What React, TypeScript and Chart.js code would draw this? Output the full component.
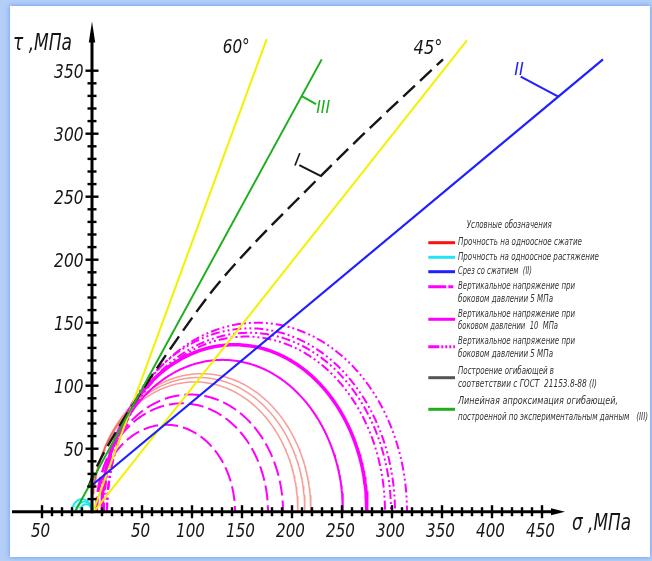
import React, { useEffect, useRef } from "react";
import { Chart, registerables } from "chart.js";

Chart.register(...registerables);

// ---- axis ticks, MPa ----
const SIGMA_MAJOR = [-50, 50, 100, 150, 200, 250, 300, 350, 400, 450];
const SIGMA_LABELS = ["50", "50", "100", "150", "200", "250", "300", "350", "400", "450"];
const SIGMA_MINOR_FROM = -50;
const SIGMA_MINOR_TO = 450;
const TAU_MAJOR = [50, 100, 150, 200, 250, 300, 350];
const TAU_LABELS = ["50", "100", "150", "200", "250", "300", "350"];
const TAU_MINOR_TO = 350;
const MINOR_STEP = 10;
const SIGMA_AXIS_FROM = -80;
const SIGMA_AXIS_TIP = 473;
const TAU_AXIS_TIP = 389;

// ---- straight lines and envelope, (σ, τ) in MPa ----
const RAY_60_SIGMA = [1, 174.7];
const RAY_60_TAU = [0, 375];
const RAY_45_SIGMA = [2, 375];
const RAY_45_TAU = [0, 374];
const LINEAR_III_SIGMA = [-17, 229.7];
const LINEAR_III_TAU = [0, 359];
const SHEAR_II_SIGMA = [0, 511];
const SHEAR_II_TAU = [21, 359];
const GOST_I_SIGMA = [-4, 5, 20, 45, 86, 121, 161, 203, 268, 351];
const GOST_I_TAU = [19, 36, 58, 90, 138, 176, 212, 246, 297, 359];

// ---- Mohr circles: σ3 (left end) and σ1 (right end), MPa ----
const TENSION_S3 = [-20, -16, -12];
const TENSION_S1 = [0, 0, 0];
const COMPRESSION_S3 = [0, 0, 0];
const COMPRESSION_S1 = [206, 213, 219];
const LATERAL5_S3 = [5, 4, 5];
const LATERAL5_S1 = [143, 176, 191];
const LATERAL10_S3 = [10, 10];
const LATERAL10_S1 = [251, 275];
const LATERAL10_WIDTH = [2, 3.5];
const LATERAL5B_S3 = [15, 15, 12, 15];
const LATERAL5B_S1 = [293, 299, 303, 315];

// ---- legend ----
const LEGEND_TITLE = "Условные обозначения";
const LEGEND_LABELS = [
  ["Прочность на одноосное сжатие"],
  ["Прочность на одноосное растяжение"],
  ["Срез со сжатием  (II)"],
  ["Вертикальное напряжение при", "боковом давлении 5 МПа"],
  ["Вертикальное напряжение при", "боковом давлении  10  МПа"],
  ["Вертикальное напряжение при", "боковом давлении 5 МПа"],
  ["Построение огибающей в", "соответствии с ГОСТ  21153.8-88 (I)"],
  ["Линейная апроксимация огибающей,", "построенной по экспериментальным данным   (III)"],
];

const MAGENTA = "#ff00ff";
const DASH_LONG = [15, 5];
const DASH_DOT_DOT = [9, 3, 2, 3, 2, 3];
const DASH_ENVELOPE = [16, 7];

const COND = '"DejaVu Sans Condensed", "DejaVu Sans", sans-serif';

function semicircle(s3: number, s1: number, n = 180) {
  const c = (s3 + s1) / 2;
  const r = (s1 - s3) / 2;
  const pts: { x: number; y: number }[] = [];
  for (let i = 0; i <= n; i++) {
    const t = Math.PI - (Math.PI * i) / n;
    pts.push({ x: c + r * Math.cos(t), y: r * Math.sin(t) });
  }
  return pts;
}

function zipXY(xs: number[], ys: number[]) {
  return xs.map((x, i) => ({ x, y: ys[i] }));
}

function interp(xs: number[], ys: number[], x: number) {
  for (let i = 0; i < xs.length - 1; i++) {
    if (x >= xs[i] && x <= xs[i + 1]) {
      const f = (x - xs[i]) / (xs[i + 1] - xs[i]);
      return ys[i] + f * (ys[i + 1] - ys[i]);
    }
  }
  return ys[ys.length - 1];
}

function lineDs(data: any[], color: string, width: number, dash: number[] = [], extra: any = {}) {
  return {
    data,
    showLine: true,
    borderColor: color,
    backgroundColor: color,
    borderWidth: width,
    borderDash: dash,
    pointRadius: 0,
    fill: false,
    tension: 0,
    clip: false,
    ...extra,
  };
}

function buildDatasets() {
  const ds: any[] = [];
  // straight lines on top
  ds.push(lineDs(zipXY(SHEAR_II_SIGMA, SHEAR_II_TAU), "#1f1fff", 2.2));
  ds.push(lineDs(zipXY(LINEAR_III_SIGMA, LINEAR_III_TAU), "#1fae1f", 2));
  ds.push(
    lineDs(zipXY(GOST_I_SIGMA, GOST_I_TAU), "#161616", 2.4, DASH_ENVELOPE, {
      cubicInterpolationMode: "monotone",
    })
  );
  ds.push(lineDs(zipXY(RAY_60_SIGMA, RAY_60_TAU), "#f2f200", 2));
  ds.push(lineDs(zipXY(RAY_45_SIGMA, RAY_45_TAU), "#f2f200", 2));
  // Mohr circles
  TENSION_S3.forEach((s3, i) => ds.push(lineDs(semicircle(s3, TENSION_S1[i], 60), "#22e4f2", 1.8)));
  LATERAL5B_S3.forEach((s3, i) => ds.push(lineDs(semicircle(s3, LATERAL5B_S1[i]), MAGENTA, 2, DASH_DOT_DOT)));
  LATERAL10_S3.forEach((s3, i) => ds.push(lineDs(semicircle(s3, LATERAL10_S1[i]), MAGENTA, LATERAL10_WIDTH[i])));
  LATERAL5_S3.forEach((s3, i) => ds.push(lineDs(semicircle(s3, LATERAL5_S1[i]), MAGENTA, 2, DASH_LONG)));
  COMPRESSION_S3.forEach((s3, i) =>
    ds.push(lineDs(semicircle(s3, COMPRESSION_S1[i]), "rgba(238,60,45,0.5)", 1.5))
  );
  return ds;
}

const framePlugin = {
  id: "frame",
  beforeDraw(chart: any) {
    const { ctx, width, height } = chart;
    ctx.save();
    ctx.fillStyle = "#b3cff8";
    ctx.fillRect(0, 0, width, height);
    ctx.shadowColor = "rgba(80,130,230,0.8)";
    ctx.shadowBlur = 5;
    ctx.fillStyle = "#ffffff";
    ctx.fillRect(10, 6, 640, 551);
    ctx.restore();
  },
};

const axesPlugin = {
  id: "crossAxes",
  afterDatasetsDraw(chart: any) {
    const { ctx } = chart;
    const xs = chart.scales.x;
    const ys = chart.scales.y;
    const X = (v: number) => xs.getPixelForValue(v);
    const Y = (v: number) => ys.getPixelForValue(v);
    const x0 = X(0);
    const y0 = Y(0);

    const seg = (a: number, b: number, c: number, d: number) => {
      ctx.beginPath();
      ctx.moveTo(a, b);
      ctx.lineTo(c, d);
      ctx.stroke();
    };

    ctx.save();
    ctx.strokeStyle = "#000";
    ctx.fillStyle = "#000";
    ctx.lineCap = "butt";

    // axis lines
    ctx.lineWidth = 3;
    const sx1 = X(SIGMA_AXIS_TIP);
    const ty1 = Y(TAU_AXIS_TIP);
    seg(X(SIGMA_AXIS_FROM), y0, sx1 - 10, y0);
    seg(x0, y0 + 1.5, x0, ty1 + 12);

    // arrow heads
    ctx.beginPath();
    ctx.moveTo(sx1, y0);
    ctx.lineTo(sx1 - 14, y0 - 3.5);
    ctx.lineTo(sx1 - 14, y0 + 3.5);
    ctx.closePath();
    ctx.fill();
    ctx.beginPath();
    ctx.moveTo(x0, ty1);
    ctx.lineTo(x0 - 3.2, ty1 + 21);
    ctx.lineTo(x0 + 3.2, ty1 + 21);
    ctx.closePath();
    ctx.fill();

    // cross ticks
    ctx.lineWidth = 2.4;
    for (let v = SIGMA_MINOR_FROM; v <= SIGMA_MINOR_TO; v += MINOR_STEP) {
      if (v === 0) continue;
      const major = SIGMA_MAJOR.includes(v);
      const h = major ? 6.5 : 4.5;
      seg(X(v), y0 - h, X(v), y0 + h);
    }
    for (let v = MINOR_STEP; v <= TAU_MINOR_TO; v += MINOR_STEP) {
      const major = TAU_MAJOR.includes(v);
      const h = major ? 6.5 : 4.5;
      seg(x0 - h, Y(v), x0 + h, Y(v));
    }

    // tick labels
    ctx.font = `italic 19px ${COND}`;
    ctx.fillStyle = "#151515";
    ctx.textBaseline = "alphabetic";
    ctx.textAlign = "center";
    SIGMA_MAJOR.forEach((v, i) => ctx.fillText(SIGMA_LABELS[i], X(v) - 1.5, y0 + 25.5, SIGMA_LABELS[i].length * 9.6));
    ctx.textAlign = "right";
    TAU_MAJOR.forEach((v, i) => ctx.fillText(TAU_LABELS[i], x0 - 8.5, Y(v) + 7, TAU_LABELS[i].length * 9.8));

    // axis titles
    ctx.font = `italic 23px ${COND}`;
    ctx.textAlign = "left";
    ctx.fillText("τ ,МПа", 13, 50, 59);
    ctx.fillText("σ ,МПа", sx1 + 7, y0 + 18, 59);

    // angle marks at the ends of the yellow rays
    ctx.font = `italic 20px ${COND}`;
    const r60x = X(RAY_60_SIGMA[1]);
    const r60y = Y(RAY_60_TAU[1]);
    ctx.fillText("60°", r60x - 44, r60y + 14, 27);
    const r45x = X(RAY_45_SIGMA[1]);
    const r45y = Y(RAY_45_TAU[1]);
    ctx.fillText("45°", r45x - 53.5, r45y + 14, 29);

    // curve labels with leaders
    ctx.lineWidth = 2;
    // II on the shear line
    const a2s = 466.3;
    const a2x = X(a2s);
    const a2y = Y(interp(SHEAR_II_SIGMA, SHEAR_II_TAU, a2s));
    ctx.strokeStyle = "#1f1fff";
    ctx.fillStyle = "#1f1fff";
    seg(a2x, a2y, a2x - 37.6, a2y - 20);
    ctx.font = `italic 18px ${COND}`;
    ctx.fillText("II", a2x - 44, a2y - 22, 10);
    // III on the linear approximation
    const a3s = 209.7;
    const a3x = X(a3s);
    const a3y = Y(interp(LINEAR_III_SIGMA, LINEAR_III_TAU, a3s));
    ctx.strokeStyle = "#1fae1f";
    ctx.fillStyle = "#1fae1f";
    seg(a3x, a3y, a3x + 14.3, a3y + 8);
    ctx.fillText("III", a3x + 14.5, a3y + 16.5, 14);
    // I on the GOST envelope
    const a1s = 229;
    const a1x = X(a1s);
    const a1y = Y(interp(GOST_I_SIGMA, GOST_I_TAU, a1s));
    ctx.strokeStyle = "#161616";
    ctx.fillStyle = "#161616";
    seg(a1x, a1y, a1x - 21.7, a1y - 11);
    ctx.save();
    ctx.translate(a1x - 24, a1y - 15);
    ctx.rotate(0.2);
    ctx.textAlign = "center";
    ctx.textBaseline = "middle";
    ctx.fillText("I", 0, 0);
    ctx.restore();

    ctx.restore();
  },
};

const legendPlugin = {
  id: "caption",
  afterDraw(chart: any) {
    const { ctx } = chart;
    ctx.save();
    ctx.fillStyle = "#333333";
    ctx.textBaseline = "middle";
    ctx.textAlign = "left";
    ctx.font = `italic 10.5px ${COND}`;
    ctx.fillText(LEGEND_TITLE, 466.7, 225, 85);

    const swatchX0 = 428.3;
    const swatchX1 = 455;
    const textX = 458;
    const swatches: { color: string; width: number; dash: number[] }[] = [
      { color: "#ff1010", width: 3, dash: [] },
      { color: "#22e4f2", width: 3, dash: [] },
      { color: "#1f1fff", width: 3, dash: [] },
      { color: MAGENTA, width: 3, dash: [18, 2, 5, 2] },
      { color: MAGENTA, width: 3, dash: [] },
      { color: MAGENTA, width: 3, dash: [11, 2, 2, 2, 2, 2, 2, 2] },
      { color: "#555555", width: 3, dash: [] },
      { color: "#1fae1f", width: 3, dash: [] },
    ];
    const lineY = [242.7, 257.3, 271.7, 286.7, 319.3, 346.7, 377.7, 409.3];
    const textY = [
      [242.7],
      [257.3],
      [271.7],
      [286.7, 299],
      [314.3, 326.7],
      [341.7, 354.3],
      [371.7, 384.3],
      [401.7, 417.3],
    ];
    const textW = [
      [124],
      [141],
      [74],
      [117, 95],
      [117, 100],
      [117, 95],
      [96, 139],
      [160, 190],
    ];
    swatches.forEach((s, i) => {
      ctx.strokeStyle = s.color;
      ctx.lineWidth = s.width;
      ctx.setLineDash(s.dash);
      ctx.beginPath();
      ctx.moveTo(swatchX0, lineY[i]);
      ctx.lineTo(swatchX1, lineY[i]);
      ctx.stroke();
      ctx.setLineDash([]);
      LEGEND_LABELS[i].forEach((t, j) => ctx.fillText(t, textX, textY[i][j], textW[i][j]));
    });
    ctx.restore();
  },
};

export default function App() {
  const ref = useRef<HTMLCanvasElement | null>(null);
  useEffect(() => {
    if (!ref.current) return;
    const chart = new Chart(ref.current, {
      type: "scatter",
      data: { datasets: buildDatasets() },
      options: {
        animation: false,
        responsive: false,
        devicePixelRatio: 1,
        events: [],
        layout: { padding: { left: 12, right: 90, top: 20.3, bottom: 24.1 } },
        scales: {
          x: { type: "linear", min: -80, max: 470, display: false },
          y: { type: "linear", min: -20, max: 390, display: false },
        },
        plugins: { legend: { display: false }, tooltip: { enabled: false } },
      },
      plugins: [framePlugin, axesPlugin, legendPlugin],
    } as any);
    return () => chart.destroy();
  }, []);
  return (
    <div style={{ position: "absolute", left: 0, top: 0, width: 652, height: 561 }}>
      <canvas ref={ref} width={652} height={561} style={{ display: "block", width: 652, height: 561 }} />
    </div>
  );
}
